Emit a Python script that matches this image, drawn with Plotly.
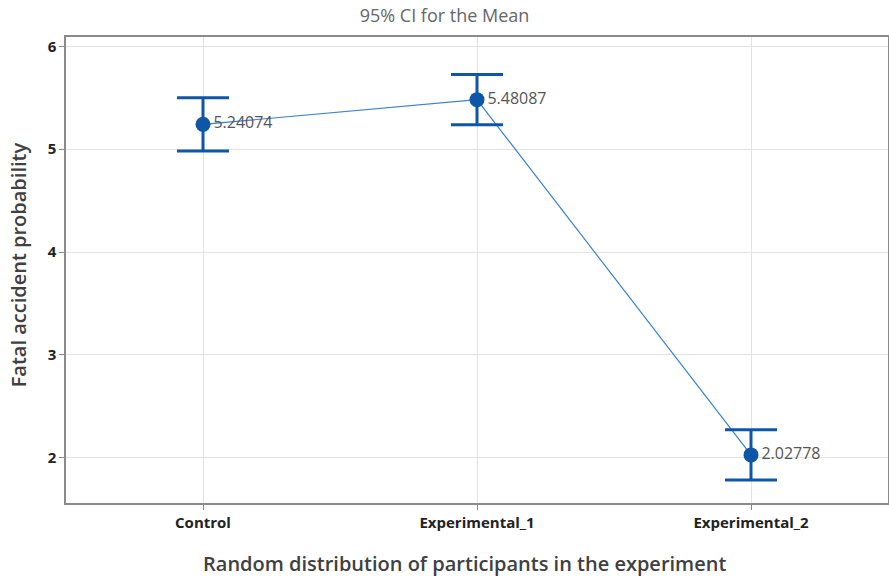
import plotly.graph_objects as go

categories = ["Control", "Experimental_1", "Experimental_2"]
means = [5.24074, 5.48087, 2.02778]
ci_half = [0.258, 0.244, 0.245]
mean_labels = ["5.24074", "5.48087", "2.02778"]
y_ticks = [2, 3, 4, 5, 6]

font_family = "Open Sans, Noto Sans, sans-serif"
dark_blue = "#0f56a8"
line_blue = "#3b7fd1"

fig = go.Figure()

# connecting line
fig.add_trace(go.Scatter(
    x=categories, y=means, mode="lines",
    line=dict(color=line_blue, width=1.2),
    hoverinfo="skip", showlegend=False,
))

# markers with CI error bars and labels
fig.add_trace(go.Scatter(
    x=categories, y=means, mode="markers+text",
    marker=dict(color=dark_blue, size=15),
    error_y=dict(type="data", array=ci_half, visible=True,
                 color=dark_blue, thickness=3, width=26),
    text=mean_labels, textposition="middle right",
    textfont=dict(family=font_family, size=16, color="#555555"),
    showlegend=False,
))

fig.update_layout(
    width=889, height=577,
    margin=dict(l=66, r=1, t=37, b=74),
    paper_bgcolor="white", plot_bgcolor="white",
    title=dict(text="95% CI for the Mean", x=0.5, xanchor="center",
               y=0.972, yanchor="middle",
               font=dict(family=font_family, size=18, color="#666666")),
    font=dict(family=font_family, color="#333333"),
    annotations=[
        dict(text="Random distribution of participants in the experiment",
             xref="paper", yref="paper", x=0.485, y=0, yshift=-60,
             xanchor="center", yanchor="middle", showarrow=False,
             font=dict(family=font_family, size=20, color="#404040", weight=600)),
        dict(text="Fatal accident probability",
             xref="paper", yref="paper", x=0, xshift=-48, y=0.51,
             xanchor="center", yanchor="middle", showarrow=False, textangle=-90,
             font=dict(family=font_family, size=20, color="#404040", weight=600)),
    ],
)

fig.update_xaxes(
    type="category", range=[-0.5, 2.5], automargin=False,
    showgrid=True, gridcolor="#e3e3e3", gridwidth=1,
    showline=True, linecolor="#8a8a8a", linewidth=1.5, mirror=True,
    ticks="outside", ticklen=5, tickcolor="#8a8a8a",
    tickfont=dict(family=font_family, size=15, color="#222222", weight="bold"),
    zeroline=False,
)

fig.update_yaxes(
    range=[1.56, 6.09], tickvals=y_ticks, automargin=False,
    showgrid=True, gridcolor="#e3e3e3", gridwidth=1,
    showline=True, linecolor="#8a8a8a", linewidth=1.5, mirror=True,
    ticks="outside", ticklen=5, tickcolor="#8a8a8a",
    tickfont=dict(family=font_family, size=15, color="#222222", weight="bold"),
    zeroline=False,
)

fig.write_html("out.html", config={"displayModeBar": False},
               post_script="document.body.style.margin='0px';document.body.style.overflow='hidden';")
